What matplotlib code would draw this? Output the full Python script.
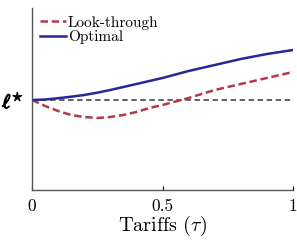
import matplotlib
matplotlib.use("Agg")
import matplotlib.pyplot as plt
import matplotlib.patheffects as pe
import numpy as np

plt.rcParams["font.family"] = "serif"
plt.rcParams["font.serif"] = ["cmr10", "DejaVu Serif"]
plt.rcParams["mathtext.fontset"] = "cm"
plt.rcParams["axes.formatter.use_mathtext"] = True

# values (relative to the l* baseline)
tau = [0.0, 0.05, 0.1, 0.15, 0.2, 0.25, 0.3, 0.35, 0.4, 0.45, 0.5,
       0.6, 0.7, 0.8, 0.9, 1.0]
look_through = [0.0, -0.06, -0.11, -0.15, -0.17, -0.18, -0.17, -0.15,
                -0.12, -0.08, -0.05, 0.02, 0.10, 0.16, 0.22, 0.28]
optimal = [0.0, 0.005, 0.018, 0.033, 0.05, 0.073, 0.10, 0.13, 0.16, 0.19,
           0.22, 0.29, 0.35, 0.41, 0.46, 0.50]
baseline = 0.0
xticks = [0, 0.5, 1]
xtick_labels = ["0", "0.5", "1"]

fig = plt.figure(figsize=(2.97, 2.43), dpi=100)
ax = fig.add_axes([32 / 297, 1 - 190 / 243, 261 / 297, 182 / 243])

ax.axhline(baseline, color="#555555", linestyle=(0, (3, 2)), linewidth=1.3)
ax.plot(tau, look_through, color="#b03a48", linestyle=(0, (3, 1.5)),
        linewidth=1.8, label="Look-through")
ax.plot(tau, optimal, color="#27279a", linewidth=1.8, label="Optimal")

ax.set_xlim(0, 1)
ax.set_ylim(-0.90, 0.92)
ax.set_xticks(xticks)
ax.set_xticklabels(xtick_labels, fontsize=12.5)
ax.set_yticks([baseline])
ax.set_yticklabels([r"$\ell^{\star}$"], fontsize=14)
for lbl in ax.get_yticklabels():
    lbl.set_path_effects([pe.withStroke(linewidth=0.9, foreground="black")])
ax.tick_params(axis="x", direction="in", length=3, pad=6)
ax.tick_params(axis="y", length=0, pad=6)
ax.set_xlabel(r"Tariffs ($\tau$)", fontsize=14.5, labelpad=0)

for side in ["top", "right"]:
    ax.spines[side].set_visible(False)
for side in ["left", "bottom"]:
    ax.spines[side].set_color("#555555")
    ax.spines[side].set_linewidth(1.0)

ax.legend(loc="upper left", frameon=False, fontsize=11, handlelength=1.7,
          handletextpad=0.1, labelspacing=0.05, borderaxespad=0.0,
          borderpad=0.2, bbox_to_anchor=(0.02, 0.975))

fig.savefig("out.png", dpi=100)
